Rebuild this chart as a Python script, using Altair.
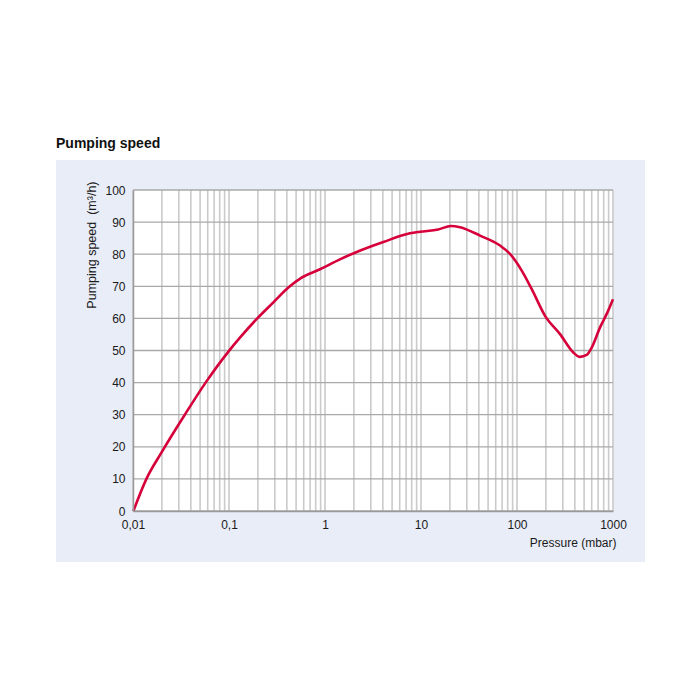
import altair as alt
import pandas as pd

# curve: pressure (mbar) vs pumping speed (m3/h)
pressure = [0.0101, 0.0138, 0.0197, 0.0345, 0.058, 0.1, 0.13, 0.197, 0.29, 0.415, 0.571,
            0.887, 1.43, 2.14, 4.05, 7.67, 9.77, 15.1, 20.5, 25.5, 41.2, 66.5, 84.5,
            112, 142, 196, 281, 386, 453, 532, 600, 733, 860, 1000]
speed = [0.0, 10.0, 18.1, 29.9, 40.3, 49.9, 54.0, 60.0, 65.0, 69.6, 72.7,
         75.3, 78.4, 80.7, 83.8, 86.5, 87.0, 87.7, 88.8, 88.4, 85.8, 82.7, 80.1,
         74.9, 69.2, 60.8, 55.1, 49.4, 48.0, 48.6, 50.9, 57.2, 61.4, 66.0]

x_ticks = [0.01, 0.1, 1, 10, 100, 1000]
y_ticks = [0, 10, 20, 30, 40, 50, 60, 70, 80, 90, 100]
x_grid = [m * 10 ** e for e in range(-2, 3) for m in range(1, 10)] + [1000]

W, H = 480, 321
FONT = "Liberation Sans"
RED = "#d6003a"
PANEL = "#e8edf7"
TXT = "#1a1a1a"

curve = pd.DataFrame({"p": pressure, "s": speed})
vgrid = pd.DataFrame({"p": x_grid})
hgrid = pd.DataFrame({"s": y_ticks})

xscale = alt.Scale(type="log", domain=[0.01, 1000], nice=False)
yscale = alt.Scale(domain=[0, 100], nice=False)

xaxis = alt.Axis(values=x_ticks, grid=False, ticks=False, domain=True,
                 domainColor="#9a9a9a", domainWidth=1.5,
                 labelExpr="replace(format(datum.value, '~g'), '.', ',')",
                 labelFont=FONT, labelFontSize=12, labelColor=TXT,
                 labelPadding=8, labelFlush=False,
                 title="Pressure (mbar)", titleFont=FONT, titleFontSize=12,
                 titleFontWeight="normal", titleColor=TXT,
                 titleAnchor="end", titleAlign="right", titleX=483, titleY=35,
                 titleBaseline="alphabetic", zindex=1)
yaxis = alt.Axis(values=y_ticks, grid=False, ticks=False, domain=True,
                 domainColor="#9a9a9a", domainWidth=1.5,
                 labelFont=FONT, labelFontSize=12, labelColor=TXT,
                 labelPadding=8,
                 title="Pumping speed\u00a0 (m³/h)", titleFont=FONT, titleFontSize=12.5,
                 titleFontWeight="normal", titleColor=TXT,
                 titleAngle=-90, titleAlign="right", titleBaseline="middle",
                 titleX=-42, titleY=-9, zindex=1)

panel = alt.Chart(pd.DataFrame({"a": [0]})).mark_rect(color=PANEL).encode(
    x=alt.value(-77), x2=alt.value(512), y=alt.value(-30), y2=alt.value(372)
)
plotbg = alt.Chart(pd.DataFrame({"a": [0]})).mark_rect(color="white").encode(
    x=alt.value(0), x2=alt.value(W), y=alt.value(0), y2=alt.value(H)
)
title = alt.Chart(pd.DataFrame({"t": ["Pumping speed"]})).mark_text(
    align="left", baseline="alphabetic", font=FONT, fontSize=14, fontWeight="bold", color="#111"
).encode(x=alt.value(-77), y=alt.value(-42), text="t:N")

vrules = alt.Chart(vgrid).mark_rule(color="#cacaca", strokeWidth=1.6).encode(
    x=alt.X("p:Q", scale=xscale, axis=xaxis),
    y=alt.value(0), y2=alt.value(H)
)
hrules = alt.Chart(hgrid).mark_rule(color="#a9a9a9", strokeWidth=1.3).encode(
    y=alt.Y("s:Q", scale=yscale, axis=yaxis),
    x=alt.value(0), x2=alt.value(W)
)

line = alt.Chart(curve).mark_line(color=RED, strokeWidth=2.6, interpolate="monotone").encode(
    x=alt.X("p:Q", scale=xscale, axis=xaxis),
    y=alt.Y("s:Q", scale=yscale, axis=yaxis),
)

chart = alt.layer(panel, plotbg, title, vrules, hrules, line).properties(
    width=W, height=H,
    autosize=alt.AutoSizeParams(type="none"),
    padding={"left": 125, "top": 182, "right": 60, "bottom": 60},
).configure_view(stroke=None).configure(background="white")

chart.save("out.html", embed_options={"renderer": "svg", "actions": False})
